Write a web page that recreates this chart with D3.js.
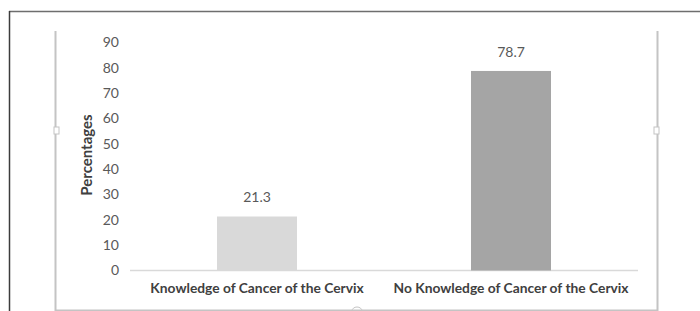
<!DOCTYPE html>
<html>
<head>
<meta charset="utf-8">
<script src="https://cdn.jsdelivr.net/npm/d3@7"></script>
<style>
  body { margin: 0; background: #fff; }
  svg { display: block; font-family: Lato, "Open Sans", sans-serif; }
</style>
</head>
<body>
<svg width="700" height="311"></svg>
<script>
let categories = ["Knowledge of Cancer of the Cervix", "No Knowledge of Cancer of the Cervix"];
let values = [21.3, 78.7];
let barColors = ["#d9d9d9", "#a5a5a5"];
let yTicks = [0, 10, 20, 30, 40, 50, 60, 70, 80, 90];

let svg = d3.select("svg");

// outer page frame
svg.append("line").attr("x1", 9).attr("x2", 700).attr("y1", 11.5).attr("y2", 11.5)
  .attr("stroke", "#6e6e6e").attr("stroke-width", 1.5);
svg.append("line").attr("x1", 9.5).attr("x2", 9.5).attr("y1", 11).attr("y2", 311)
  .attr("stroke", "#3c3c3c").attr("stroke-width", 1.5);

// chart object frame
let frame = svg.append("g").attr("stroke", "#c4c4c4").attr("fill", "none");
frame.append("path").attr("d", "M55.5,31V310.5H657.5V31").attr("stroke-width", 2);
frame.append("rect").attr("x", 54).attr("y", 127).attr("width", 5).attr("height", 7)
  .attr("fill", "#fff").attr("stroke-width", 1);
frame.append("rect").attr("x", 654).attr("y", 127).attr("width", 5).attr("height", 7)
  .attr("fill", "#fff").attr("stroke-width", 1);
frame.append("path").attr("d", "M352,311a5,4 0 0 1 10,0").attr("stroke-width", 1);

let x = d3.scaleBand().domain(categories).range([130, 638]).padding(0.685).paddingOuter(0.3425);
let y = d3.scaleLinear().domain([0, 90]).range([270.5, 42.3]);

// y axis labels
let yAxis = svg.append("g").attr("transform", "translate(119,0)")
  .call(d3.axisLeft(y).tickValues(yTicks).tickSize(0).tickPadding(0));
yAxis.select(".domain").remove();
yAxis.selectAll("text").attr("fill", "#595959").style("font-size", "14px")
  .style("font-family", "Lato, sans-serif");

// baseline
svg.append("line").attr("x1", 130).attr("x2", 638).attr("y1", y(0)).attr("y2", y(0))
  .attr("stroke", "#d9d9d9").attr("stroke-width", 1.5);

// bars
svg.append("g").selectAll("rect")
  .data(values)
  .enter().append("rect")
  .attr("x", (d, i) => x(categories[i]))
  .attr("width", x.bandwidth())
  .attr("y", d => y(d))
  .attr("height", d => y(0) - y(d))
  .attr("fill", (d, i) => barColors[i]);

// value labels
svg.append("g").selectAll("text")
  .data(values)
  .enter().append("text")
  .attr("x", (d, i) => x(categories[i]) + x.bandwidth() / 2)
  .attr("y", d => y(d) - 14)
  .attr("text-anchor", "middle")
  .attr("fill", "#595959")
  .style("font-size", "14px")
  .text(d => d.toFixed(1));

// category labels
let xAxis = svg.append("g").attr("transform", "translate(0," + y(0) + ")")
  .call(d3.axisBottom(x).tickSize(0).tickPadding(13));
xAxis.select(".domain").remove();
xAxis.selectAll("text").attr("fill", "#404040").style("font-size", "13.8px")
  .style("font-weight", "bold").style("font-family", "Lato, sans-serif");

// y axis title
svg.append("text")
  .attr("transform", "translate(92,155) rotate(-90)")
  .attr("text-anchor", "middle")
  .attr("fill", "#404040")
  .style("font-size", "15px")
  .style("font-weight", "bold")
  .text("Percentages");
</script>
</body>
</html>
